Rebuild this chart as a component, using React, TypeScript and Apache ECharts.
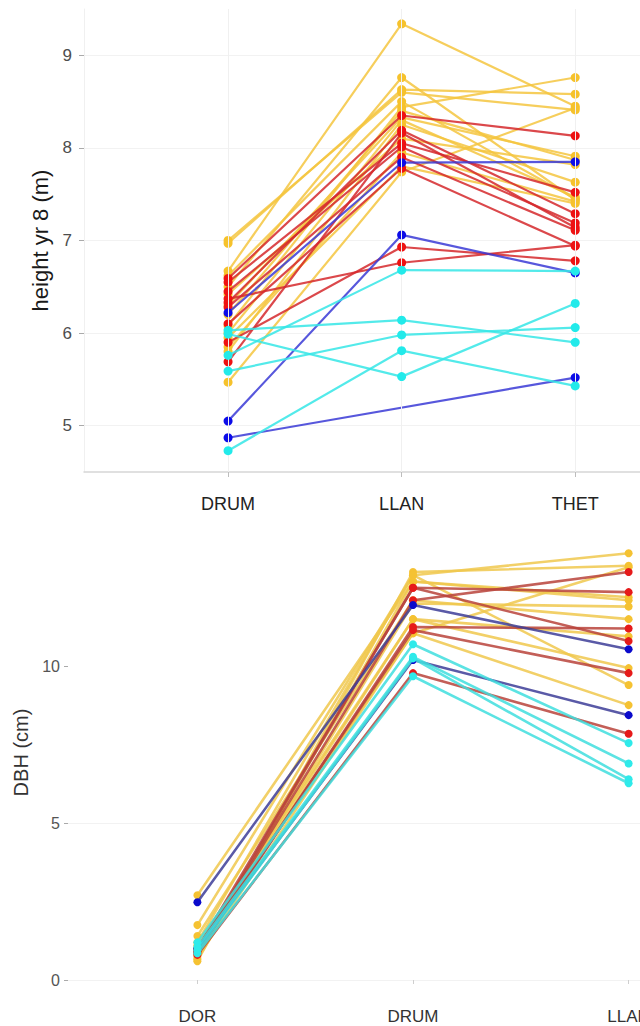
import React, { useEffect, useRef } from "react";
import * as echarts from "echarts";

// Height at year 8 (m), one row per tree: DRUM, LLAN, THET (null = not measured)
const heightSites = ["DRUM", "LLAN", "THET"];
const heightTicks = [5, 6, 7, 8, 9];

const heightGold = [
  [6.67, 9.34, 8.45],
  [6.97, 8.63, 8.58],
  [7.0, 8.6, 8.41],
  [6.5, 8.76, 7.44],
  [6.08, 8.44, 8.76],
  [5.47, 7.74, 8.43],
  [6.3, 8.33, 7.91],
  [6.2, 8.4, 7.87],
  [6.42, 8.1, 7.82],
  [5.8, 8.25, 7.63],
  [6.0, 8.3, 7.47],
  [5.95, 7.8, 7.4],
  [6.62, 8.5, 7.45],
  [5.85, 7.95, 7.42],
];
const heightRed = [
  [6.59, 8.35, 8.13],
  [6.33, 8.19, 7.29],
  [5.69, 8.16, 7.14],
  [6.45, 8.01, 7.19],
  [6.28, 7.9, 7.11],
  [6.1, 7.78, 6.94],
  [6.55, 8.05, 7.52],
  [6.37, 6.76, 6.95],
  [5.9, 6.93, 6.78],
];
const heightBlue = [
  [6.22, 7.84, 7.85],
  [5.05, 7.06, 6.65],
  [4.87, null, 5.52],
];
const heightCyan = [
  [5.76, 6.68, 6.67],
  [6.03, 6.14, 5.9],
  [5.99, 5.53, 6.32],
  [5.59, 5.98, 6.06],
  [4.73, 5.81, 5.43],
];

// Stem diameter (cm), one row per tree: DOR, DRUM, LLAN
const dbhSites = ["DOR", "DRUM", "LLAN"];
const dbhTicks = [0, 5, 10];

const dbhGold = [
  [0.6, 13.0, 13.2],
  [1.75, 12.9, 13.6],
  [2.7, 12.7, 12.1],
  [1.4, 12.1, 11.5],
  [0.8, 12.0, 11.9],
  [1.1, 11.5, 10.95],
  [0.7, 11.05, 13.15],
  [0.9, 11.5, 9.94],
  [1.2, 12.9, 9.4],
  [1.0, 11.05, 8.76],
  [0.65, 12.7, 12.2],
];
const dbhRed = [
  [1.0, 12.5, 12.36],
  [0.9, 12.1, 13.0],
  [0.85, 11.25, 11.2],
  [0.95, 11.15, 9.78],
  [0.8, 9.78, 7.85],
  [0.9, 12.5, 10.8],
];
const dbhBlue = [
  [2.48, 11.95, 10.54],
  [1.0, 10.2, 8.44],
];
const dbhCyan = [
  [1.2, 10.7, 7.55],
  [1.05, 10.3, 6.9],
  [0.95, 10.25, 6.4],
  [0.85, 9.68, 6.27],
];

const FONT = "Liberation Sans, Arial, sans-serif";

type Row = (number | null)[];

function treeSeries(
  rows: Row[],
  axis: number,
  lineColor: string,
  dotColor: string,
  lineWidth: number,
  symbolSize: number,
  z: number
) {
  return rows.map((row) => ({
    type: "line",
    xAxisIndex: axis,
    yAxisIndex: axis,
    data: row
      .map((v, i) => (v == null ? null : [i + 1, v]))
      .filter((p) => p !== null),
    symbol: "circle",
    symbolSize,
    showSymbol: true,
    silent: true,
    z,
    lineStyle: { color: lineColor, width: lineWidth, opacity: 0.85 },
    itemStyle: { color: dotColor, opacity: 1 },
  }));
}

function siteGridLines(sites: string[], axis: number) {
  return {
    type: "line",
    xAxisIndex: axis,
    yAxisIndex: axis,
    data: [],
    silent: true,
    z: 1,
    markLine: {
      silent: true,
      symbol: "none",
      label: { show: false },
      lineStyle: { color: "#f0f0f0", width: 1, type: "solid" },
      data: sites.map((_, i) => ({ xAxis: i + 1 })),
    },
  };
}

export default function App() {
  const ref = useRef<HTMLDivElement>(null);

  useEffect(() => {
    if (!ref.current) return;
    const chart = echarts.init(ref.current, undefined, { renderer: "svg" });

    const option = {
      animation: false,
      backgroundColor: "#ffffff",
      grid: [
        { left: 84, top: 9, width: 578, height: 463 },
        { left: 68, top: 525, width: 690, height: 455 },
      ],
      xAxis: [
        {
          type: "value",
          gridIndex: 0,
          min: 0.17,
          max: 3.5,
          axisLine: { show: true, onZero: false, lineStyle: { color: "#d6d6d6", width: 1.5 } },
          axisTick: { show: true, customValues: [1, 2, 3], length: 5, lineStyle: { color: "#bdbdbd" } },
          axisLabel: {
            customValues: [1, 2, 3],
            formatter: (v: number) => heightSites[Math.round(v) - 1] ?? "",
            fontSize: 18,
            color: "#222222",
            fontFamily: FONT,
            margin: 23,
          },
          splitLine: { show: false },
        },
        {
          type: "value",
          gridIndex: 1,
          min: 0.4,
          max: 3.6,
          axisLine: { show: false, onZero: false },
          axisTick: { show: true, customValues: [1, 2, 3], length: 4, lineStyle: { color: "#cfcfcf" } },
          axisLabel: {
            customValues: [1, 2, 3],
            formatter: (v: number) => dbhSites[Math.round(v) - 1] ?? "",
            fontSize: 17,
            color: "#333333",
            fontFamily: FONT,
            margin: 28,
          },
          splitLine: { show: false },
        },
      ],
      yAxis: [
        {
          type: "value",
          gridIndex: 0,
          min: 4.5,
          max: 9.5,
          interval: 0.5,
          axisLine: { show: true, lineStyle: { color: "#f0f0f0" } },
          axisTick: { show: true, customValues: heightTicks, length: 5, lineStyle: { color: "#aaaaaa" } },
          axisLabel: {
            customValues: heightTicks,
            fontSize: 17,
            color: "#4d4d4d",
            fontFamily: FONT,
            margin: 12,
          },
          splitLine: { show: true, lineStyle: { color: "#f2f2f2", width: 1 } },
          name: "height yr 8 (m)",
          nameLocation: "middle",
          nameRotate: 90,
          nameGap: 29,
          nameTextStyle: { fontSize: 22, color: "#1a1a1a", fontFamily: FONT },
        },
        {
          type: "value",
          gridIndex: 1,
          min: 0,
          max: 14.5,
          interval: 2.5,
          axisLine: { show: false },
          axisTick: { show: true, customValues: dbhTicks, length: 4, lineStyle: { color: "#aaaaaa" } },
          axisLabel: {
            customValues: dbhTicks,
            fontSize: 16,
            color: "#555555",
            fontFamily: FONT,
            margin: 8,
          },
          splitLine: { show: true, showMaxLine: false, lineStyle: { color: "#f2f2f2", width: 1 } },
          name: "DBH (cm)",
          nameLocation: "middle",
          nameRotate: 90,
          nameGap: 33,
          nameTextStyle: { fontSize: 20, color: "#333333", fontFamily: FONT },
        },
      ],
      series: [
        siteGridLines(heightSites, 0),
        ...treeSeries(heightGold, 0, "#f4c640", "#f6c22c", 2.2, 9, 2),
        ...treeSeries(heightRed, 0, "#d5282c", "#ee1212", 2.2, 9, 3),
        ...treeSeries(heightBlue, 0, "#3a3ad6", "#0c0ce8", 2.2, 9, 4),
        ...treeSeries(heightCyan, 0, "#35e6e6", "#22eaea", 2.2, 9, 5),
        ...treeSeries(dbhGold, 1, "#f0c84e", "#f5c232", 2.6, 8, 2),
        ...treeSeries(dbhRed, 1, "#b9433b", "#e61a1a", 2.6, 8, 3),
        ...treeSeries(dbhBlue, 1, "#3d3d98", "#0a0acc", 2.6, 8, 4),
        ...treeSeries(dbhCyan, 1, "#40dede", "#2eeaea", 2.6, 8, 5),
      ],
    };

    chart.setOption(option as any);
    return () => chart.dispose();
  }, []);

  return (
    <div
      style={{
        position: "fixed",
        left: 0,
        top: 0,
        width: 640,
        height: 1026,
        overflow: "hidden",
        background: "#ffffff",
      }}
    >
      <div ref={ref} style={{ width: 780, height: 1026 }} />
    </div>
  );
}
